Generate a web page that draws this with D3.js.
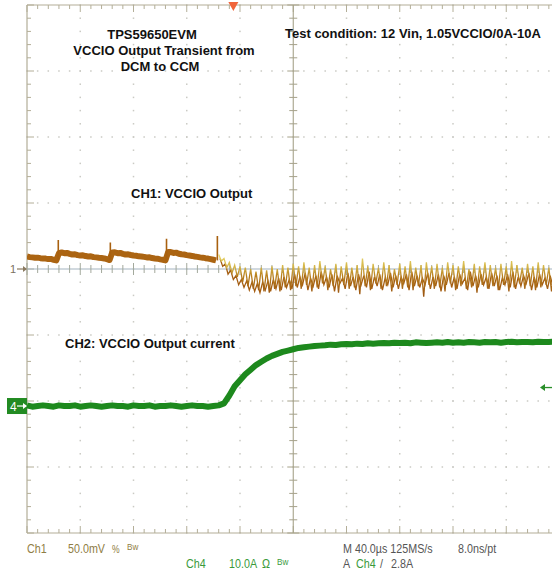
<!DOCTYPE html>
<html>
<head>
<meta charset="utf-8">
<script src="https://cdn.jsdelivr.net/npm/d3@7"></script>
<style>
  html, body { margin: 0; padding: 0; background: #fff; }
  svg { display: block; }
  .note { font-family: "Liberation Sans", Arial, sans-serif; font-weight: bold; font-size: 13px; fill: #111; }
  .readout { font-family: "Liberation Sans", Arial, sans-serif; }
</style>
</head>
<body>
<svg id="scope" width="552" height="573"></svg>
<script>
// ---- Scope settings ----
const timePerDiv = 40;        // µs/div
const hDivs = 10;
const ch1VoltsPerDiv = 50;    // mV/div
const ch4AmpsPerDiv = 10;     // A/div
const vDivs = 8;
const ch4OffsetDiv = -2.076;  // Ch4 ground marker, divisions from centre
const triggerTime = 155;      // µs from left edge
const triggerLevel = 2.8;     // A

// ---- Ch1: VCCIO output (mV from centre), DCM segment, 2 µs/sample from t = 0 ----
const ch1DcmStep = 2;
const ch1Dcm = [
  9.5, 9.0, 8.8, 8.5, 8.6, 8.2, 8.0, 7.9, 7.5, 7.6, 7.0, 6.5,
  12.0, 12.5, 12.0, 12.2, 11.5, 11.0, 11.2, 10.5, 10.2, 10.4, 9.8, 9.5, 9.6, 9.0, 8.8, 8.5, 8.3, 8.0, 7.4, 6.8,
  12.5, 12.6, 12.0, 12.2, 11.5, 11.0, 11.1, 10.6, 10.2, 10.0, 9.6, 9.5, 9.2, 8.8, 8.9, 8.3, 8.0, 7.8, 7.3, 7.0, 6.5,
  12.8, 12.8, 12.2, 12.4, 11.6, 11.2, 11.0, 10.5, 10.2, 9.9, 9.5, 9.2, 8.8, 8.6, 8.2, 7.9, 7.5, 7.0, 6.5
];
// Short pulses at each DCM switching event (µs, mV peak)
const ch1Spikes = [
  { t: 23.5, base: 6.5, peak: 22 },
  { t: 62.6, base: 6.8, peak: 20 },
  { t: 104.8, base: 6.5, peak: 23 },
  { t: 143.0, base: 6.5, peak: 25 }
];
// ---- Ch1 CCM segment, 2 µs/sample from t = 144 ----
const ch1CcmStart = 144;
const ch1CcmStep = 2;
const ch1Ccm = [
  11, 6, 8, 1, 5, -3, 3, -6, 2, -10, 1, -13, 0, -15, -2, -16, 1, -17, -1, -18,
  2, -15, 0, -17, 3, -14, 1, -16, 4, -13,
  2, -15, 5, -12, 1, -17, 3, -14, 6, -11, 2, -16, 0, -13, 4, -18, 2, -12, 5, -15,
  1, -14, 3, -19, 8, -13, 2, -16, 4, -11, 1, -15, 5, -13, 3, -17, 0, -12, 4, -15,
  2, -14, 6, -16, 1, -13, 3, -21, 5, -12, 2, -15, 4, -14, 1, -17, 5, -11, 3, -16,
  2, -13, 6, -15, 0, -14, 4, -18, 2, -12, 5, -15, 3, -13, 1, -16, 4, -12, 2, -17,
  6, -14, 3, -11, 1, -15, 4, -13, 2, -16, 5, -14, 3, -12, 1, -17, 4, -13, 2
];
// Second sweep (persistence), 2 µs/sample from t = 145
const ch1CcmBStart = 145;
const ch1CcmB = [
  8, 2, 4, -4, -1, -8, -5, -12, -8, -14, -9, -16, -10, -17, -11, -18, -10, -16, -9, -17,
  -8, -15, -7, -16, -6, -14, -8, -15,
  -4, -14, -6, -12, -3, -16, -7, -13, -5, -15, -2, -12, -6, -14, -4, -17, -5, -11, -7, -15,
  -3, -13, -6, -16, -4, -12, -5, -14, -2, -15, -6, -13, -4, -16, -7, -12, -3, -14, -5, -15,
  -6, -11, -4, -16, -2, -13, -5, -14, -7, -12, -3, -15, -6, -13, -4, -17, -5, -12, -3, -14,
  -6, -15, -4, -11, -7, -16, -2, -13, -5, -14, -4, -12, -6, -15, -3, -13, -5, -16, -7, -12,
  -4, -14, -2, -15, -6, -13, -5, -11, -3, -16, -6, -14, -4, -12, -7, -15, -5, -13, -3, -14
];

// ---- Ch4: VCCIO output current (A), 4 µs/sample from t = 0 ----
const ch4Step = 4;
const ch4 = [
  0.1, -0.1, 0.0, 0.1, 0.0, -0.1, 0.1, 0.0, 0.0, 0.1, -0.1, 0.0, 0.1, 0.0, -0.1, 0.0, 0.1, 0.0, 0.0,
  -0.1, 0.1, 0.0, 0.0, 0.1, -0.1, 0.0, 0.0, 0.1, 0.0, -0.1, 0.0, 0.1, 0.0, 0.0, -0.1, 0.0, 0.1,
  0.4, 1.6, 3.0, 3.9, 4.8, 5.5, 6.2, 6.7, 7.2, 7.6, 7.9, 8.2, 8.4, 8.6, 8.8, 8.9, 9.0, 9.1, 9.15, 9.2,
  9.3, 9.25, 9.35, 9.4, 9.35, 9.45, 9.4, 9.5, 9.45, 9.5,
  9.55, 9.5, 9.6, 9.55, 9.6, 9.5, 9.65, 9.6, 9.55, 9.6, 9.65, 9.6, 9.7, 9.6, 9.65, 9.6, 9.7,
  9.65, 9.6, 9.7, 9.65, 9.7, 9.6, 9.7, 9.75, 9.65, 9.7, 9.7, 9.65, 9.75, 9.7, 9.7, 9.75, 9.7
];

// ---- Text ----
const titleLines = ["TPS59650EVM", "VCCIO Output Transient from", "DCM to CCM"];
const testCondition = "Test condition: 12 Vin, 1.05VCCIO/0A-10A";
const ch1Label = "CH1: VCCIO Output";
const ch2Label = "CH2: VCCIO Output current";

// ---- Layout ----
const plot = { left: 27, top: 5, divW: 53.25, divH: 66 };
plot.right = plot.left + plot.divW * hDivs;
plot.bottom = plot.top + plot.divH * vDivs;

const svg = d3.select("#scope");

const x = d3.scaleLinear().domain([0, timePerDiv * hDivs]).range([plot.left, plot.right]);
const y1 = d3.scaleLinear()
  .domain([-ch1VoltsPerDiv * vDivs / 2, ch1VoltsPerDiv * vDivs / 2])
  .range([plot.bottom, plot.top]);
const y4 = d3.scaleLinear()
  .domain([(-vDivs / 2 - ch4OffsetDiv) * ch4AmpsPerDiv, (vDivs / 2 - ch4OffsetDiv) * ch4AmpsPerDiv])
  .range([plot.bottom, plot.top]);
// graticule in divisions
const gx = d3.scaleLinear().domain([0, hDivs]).range([plot.left, plot.right]);
const gy = d3.scaleLinear().domain([0, vDivs]).range([plot.top, plot.bottom]);

svg.append("rect").attr("width", 552).attr("height", 573).attr("fill", "#fff");

const defs = svg.append("defs");
const clip = defs.append("clipPath").attr("id", "plotClip");
clip.append("rect").attr("x", plot.left).attr("y", plot.top)
  .attr("width", plot.right - plot.left).attr("height", plot.bottom - plot.top);

// ---- Graticule ----
const grid = svg.append("g");
const minorX = d3.range(0, hDivs * 5 + 1).map(i => i / 5);
const minorY = d3.range(0, vDivs * 5 + 1).map(i => i / 5);
const majorX = d3.range(1, hDivs).filter(d => d !== hDivs / 2);
const majorY = d3.range(1, vDivs).filter(d => d !== vDivs / 2);

// dotted lines at each major division
majorX.forEach(d => {
  grid.selectAll(null).data(minorY).join("rect")
    .attr("x", gx(d) - 0.75).attr("y", v => gy(v) - 0.75)
    .attr("width", 1.5).attr("height", 1.5).attr("fill", "#cacac4");
});
majorY.forEach(d => {
  grid.selectAll(null).data(minorX).join("rect")
    .attr("x", v => gx(v) - 0.75).attr("y", gy(d) - 0.75)
    .attr("width", 1.5).attr("height", 1.5).attr("fill", "#cacac4");
});

const frameColor = "#b3ae98";
// frame
grid.append("line").attr("x1", plot.left).attr("x2", plot.right).attr("y1", plot.top).attr("y2", plot.top)
  .attr("stroke", frameColor).attr("stroke-width", 1.2);
grid.append("line").attr("x1", plot.left).attr("x2", plot.right).attr("y1", plot.bottom).attr("y2", plot.bottom)
  .attr("stroke", frameColor).attr("stroke-width", 1.2);
grid.append("line").attr("x1", plot.left).attr("x2", plot.left).attr("y1", plot.top).attr("y2", plot.bottom)
  .attr("stroke", frameColor).attr("stroke-width", 1.2);

const isMajor = v => Math.abs(v - Math.round(v)) < 1e-6;
// edge ticks
grid.selectAll(null).data(minorX).join("line")
  .attr("x1", gx).attr("x2", gx).attr("y1", plot.top).attr("y2", v => plot.top + (isMajor(v) ? 7 : 4))
  .attr("stroke", frameColor);
grid.selectAll(null).data(minorX).join("line")
  .attr("x1", gx).attr("x2", gx).attr("y1", plot.bottom).attr("y2", v => plot.bottom - (isMajor(v) ? 7 : 4))
  .attr("stroke", frameColor);
grid.selectAll(null).data(minorY).join("line")
  .attr("y1", gy).attr("y2", gy).attr("x1", plot.left).attr("x2", v => plot.left + (isMajor(v) ? 7 : 4))
  .attr("stroke", frameColor);

// centre cross
const cx = gx(hDivs / 2), cy = gy(vDivs / 2);
grid.append("line").attr("x1", cx).attr("x2", cx).attr("y1", plot.top).attr("y2", plot.bottom)
  .attr("stroke", "#a6a28a").attr("stroke-width", 1.1);
grid.append("line").attr("x1", plot.left).attr("x2", plot.right).attr("y1", cy).attr("y2", cy)
  .attr("stroke", "#a3b3c0").attr("stroke-width", 1.1);
grid.selectAll(null).data(minorY).join("line")
  .attr("y1", gy).attr("y2", gy)
  .attr("x1", v => cx - (isMajor(v) ? 6 : 4)).attr("x2", v => cx + (isMajor(v) ? 6 : 4))
  .attr("stroke", "#a6a28a");
grid.selectAll(null).data(minorX).join("line")
  .attr("x1", gx).attr("x2", gx)
  .attr("y1", v => cy - (isMajor(v) ? 6 : 4)).attr("y2", v => cy + (isMajor(v) ? 6 : 4))
  .attr("stroke", "#a3a99c");

// ---- Traces ----
const traces = svg.append("g").attr("clip-path", "url(#plotClip)");

// Ch1 colour: yellow on the upper excursions, brown below
const grad = defs.append("linearGradient").attr("id", "ch1Grad")
  .attr("gradientUnits", "userSpaceOnUse")
  .attr("x1", 0).attr("x2", 0).attr("y1", y1(10)).attr("y2", y1(-20));
[[0, "#e6d468"], [0.3, "#d2b246"], [0.5, "#b8801e"], [1, "#9a5410"]].forEach(([o, c]) =>
  grad.append("stop").attr("offset", o).attr("stop-color", c));

const lineDcm = d3.line().x((d, i) => x(i * ch1DcmStep)).y(d => y1(d));
traces.append("path").datum(ch1Dcm).attr("d", lineDcm)
  .attr("fill", "none").attr("stroke", "#ab6412").attr("stroke-width", 6)
  .attr("stroke-linejoin", "round");

traces.selectAll(null).data(ch1Spikes).join("line")
  .attr("x1", d => x(d.t)).attr("x2", d => x(d.t))
  .attr("y1", d => y1(d.base)).attr("y2", d => y1(d.peak))
  .attr("stroke", "#a8600f").attr("stroke-width", 1.6);

const lineCcmB = d3.line().x((d, i) => x(ch1CcmBStart + i * ch1CcmStep)).y(d => y1(d));
traces.append("path").datum(ch1CcmB).attr("d", lineCcmB)
  .attr("fill", "none").attr("stroke", "#a55e12").attr("stroke-width", 1.3);

const lineCcm = d3.line().x((d, i) => x(ch1CcmStart + i * ch1CcmStep)).y(d => y1(d));
traces.append("path").datum(ch1Ccm).attr("d", lineCcm)
  .attr("fill", "none").attr("stroke", "url(#ch1Grad)").attr("stroke-width", 1.3);

const line4 = d3.line().x((d, i) => x(i * ch4Step)).y(d => y4(d));
traces.append("path").datum(ch4).attr("d", line4)
  .attr("fill", "none").attr("stroke", "#1d891d").attr("stroke-width", 6)
  .attr("stroke-linejoin", "round");

// ---- Annotations ----
const notes = svg.append("g");
const titleX = [152, 164, 160];
const titleY = [39, 55, 71];
titleLines.forEach((t, i) => notes.append("text").attr("class", "note")
  .attr("x", titleX[i]).attr("y", titleY[i]).attr("text-anchor", "middle").text(t));
notes.append("text").attr("class", "note").attr("x", 285).attr("y", 38).text(testCondition);
notes.append("text").attr("class", "note").attr("x", 131).attr("y", 198).text(ch1Label);
notes.append("text").attr("class", "note").attr("x", 65).attr("y", 348).text(ch2Label);

// ---- Markers ----
const mk = svg.append("g");
// trigger position
const tx = x(triggerTime);
mk.append("path").attr("d", `M${tx - 5},${plot.top - 3} L${tx + 5},${plot.top - 3} L${tx},${plot.top + 6} Z`)
  .attr("fill", "#f0643a");
// trigger level
const ty = y4(triggerLevel);
mk.append("line").attr("x1", 542).attr("x2", 552).attr("y1", ty).attr("y2", ty)
  .attr("stroke", "#2a8f2a").attr("stroke-width", 1.3);
mk.append("path").attr("d", `M540,${ty} L545,${ty - 3.5} L545,${ty + 3.5} Z`).attr("fill", "#2a8f2a");

// Ch1 ground marker
const g1 = y1(0);
mk.append("text").attr("x", 10).attr("y", g1 + 4).attr("font-family", "Liberation Sans, sans-serif")
  .attr("font-size", 11).attr("fill", "#7a7060").text("1");
mk.append("line").attr("x1", 17).attr("x2", 26).attr("y1", g1).attr("y2", g1)
  .attr("stroke", "#8a7a60").attr("stroke-width", 1.2);
mk.append("path").attr("d", `M27,${g1} L23,${g1 - 3} L23,${g1 + 3} Z`).attr("fill", "#8a7a60");

// Ch4 ground marker
const g4 = y4(0);
mk.append("rect").attr("x", 7).attr("y", g4 - 8).attr("width", 20).attr("height", 16).attr("fill", "#228b22");
mk.append("text").attr("x", 10).attr("y", g4 + 4.5).attr("font-family", "Liberation Sans, sans-serif")
  .attr("font-size", 12).attr("fill", "#fff").text("4");
mk.append("line").attr("x1", 17).attr("x2", 26).attr("y1", g4).attr("y2", g4)
  .attr("stroke", "#fff").attr("stroke-width", 1.2);
mk.append("path").attr("d", `M27,${g4} L23,${g4 - 3} L23,${g4 + 3} Z`).attr("fill", "#fff");

// ---- Readout (narrow scope lettering) ----
const ro = svg.append("g").attr("class", "readout");
const row1 = 553, row2 = 568;
const readout = [
  { x: 27, y: row1, t: "Ch1", c: "#8f7d44" },
  { x: 68, y: row1, t: "50.0mV", c: "#8f7d44" },
  { x: 112, y: row1, t: "%", c: "#8f7d44", s: 10 },
  { x: 127, y: row1 - 3, t: "Bw", c: "#8f7d44", s: 9.5 },
  { x: 343, y: row1, t: "M 40.0µs 125MS/s", c: "#555" },
  { x: 458, y: row1, t: "8.0ns/pt", c: "#555" },
  { x: 186, y: row2, t: "Ch4", c: "#3a9a3a" },
  { x: 229, y: row2, t: "10.0A", c: "#3a9a3a" },
  { x: 262, y: row2, t: "Ω", c: "#3a9a3a" },
  { x: 277, y: row2 - 3, t: "Bw", c: "#3a9a3a", s: 9.5 },
  { x: 343, y: row2, t: "A", c: "#555" },
  { x: 356, y: row2, t: "Ch4", c: "#3a9a3a" },
  { x: 380, y: row2, t: "/", c: "#555" },
  { x: 391, y: row2, t: "2.8A", c: "#555" }
];
ro.selectAll("text").data(readout).join("text")
  .attr("transform", d => `translate(${d.x},${d.y}) scale(0.86,1)`)
  .attr("fill", d => d.c)
  .attr("font-size", d => d.s || 12.5).text(d => d.t);
</script>
</body>
</html>
